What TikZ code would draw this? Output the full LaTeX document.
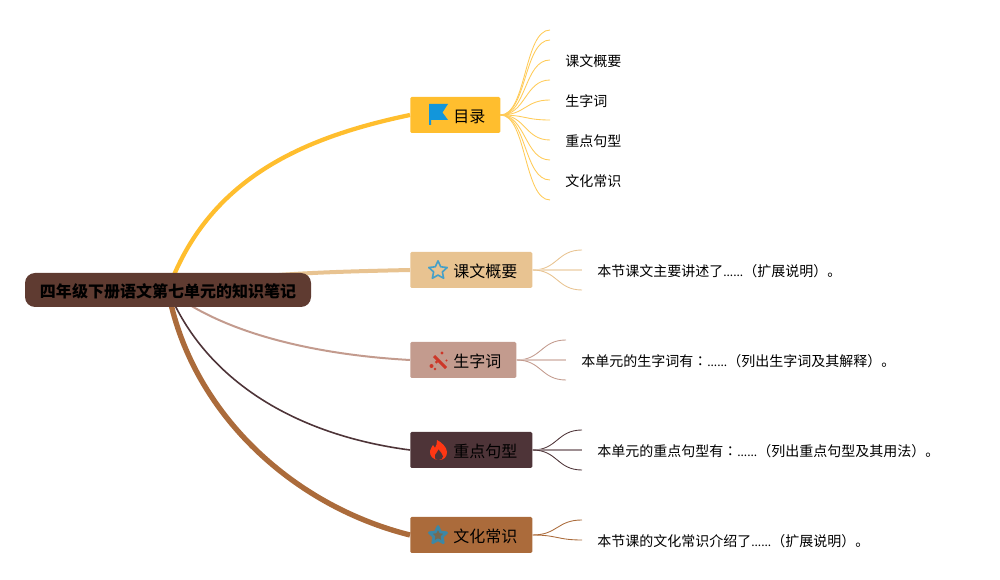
\documentclass[tikz,border=0pt]{standalone}
\usepackage{fontspec}
\setmainfont{Noto Sans CJK SC}
\newfontfamily\tcfont{Noto Sans CJK TC}
\usetikzlibrary{backgrounds,shapes.geometric}
\definecolor{cgold}{HTML}{FFBE2E}
\definecolor{ctan}{HTML}{E8C391}
\definecolor{crose}{HTML}{C39B8E}
\definecolor{cdark}{HTML}{4E3438}
\definecolor{cbrown}{HTML}{AB6B3B}
\definecolor{croot}{HTML}{5F3B31}
\tikzset{
  rootbox/.style={fill=croot,rounded corners=7.5pt,minimum width=214.5pt,minimum height=25.5pt,inner sep=0pt,text height=12pt,text depth=1pt,font=\fontsize{12pt}{14pt}\selectfont\bfseries},
  topicbox/.style={rounded corners=1pt,minimum height=27pt,inner xsep=11.25pt,inner ysep=0pt,anchor=west,text height=12pt,text depth=1pt,font=\fontsize{12pt}{14pt}\selectfont},
  leaftext/.style={inner xsep=11.25pt,inner ysep=0pt,anchor=west,text height=11pt,text depth=0.8pt,font=\fontsize{10.5pt}{13pt}\selectfont},
  leafline/.style={line width=0.65pt},
  midline/.style={line width=1.1pt},
}
\colorlet{cgoldleaf}{cgold!80}
\newcommand{\pad}{\hspace*{21pt}}
\newcommand{\smalldots}{{\fontsize{9pt}{13pt}\selectfont ......}}
\newcommand{\tccolon}{{\tcfont ：}}
\begin{document}
\begin{tikzpicture}[x=0.75pt,y=0.75pt,yscale=-1,xscale=1]
\useasboundingbox (0,0) rectangle (1000,580);

% Root
\node[rootbox] (root) at (168,290) {四年级下册语文第七单元的知识笔记};
% Topics
\node[topicbox,fill=cgold] (mulu) at (410,115) {\pad 目录};
\node[topicbox,fill=ctan] (kewen) at (410,270) {\pad 课文概要};
\node[topicbox,fill=crose] (shengzi) at (410,360) {\pad 生字词};
\node[topicbox,fill=cdark] (juxing) at (410,450) {\pad 重点句型};
\node[topicbox,fill=cbrown] (wenhua) at (410,535) {\pad 文化常识};
% Leaf Text
\node[leaftext] (muluA) at (550,60) {课文概要};
\node[leaftext] (muluB) at (550,100) {生字词};
\node[leaftext] (muluC) at (550,140) {重点句型};
\node[leaftext] (muluD) at (550,180) {文化常识};
\node[leaftext] (kewenA) at (582,270) {本节课文主要讲述了\smalldots（扩展说明）。};
\node[leaftext] (shengziA) at (566,360) {本单元的生字词有\tccolon\smalldots（列出生字词及其解释）。};
\node[leaftext] (juxingA) at (582,450) {本单元的重点句型有\tccolon\smalldots（列出重点句型及其用法）。};
\node[leaftext] (wenhuaA) at (582,540) {本节课的文化常识介绍了\smalldots（扩展说明）。};
% Free Ends
\coordinate (muluE1) at (550,30);
\coordinate (muluE2) at (550,40);
\coordinate (muluE3) at (550,80);
\coordinate (muluE4) at (550,120);
\coordinate (muluE5) at (550,160);
\coordinate (muluE6) at (550,200);
\coordinate (kewenE1) at (582,250);
\coordinate (kewenE2) at (582,290);
\coordinate (shengziE1) at (566,340);
\coordinate (shengziE2) at (566,380);
\coordinate (juxingE1) at (582,430);
\coordinate (juxingE2) at (582,470);
\coordinate (wenhuaE1) at (582,520);

\begin{scope}[on background layer]
% Connection
\draw [cgold,line width=3.2pt] (root.center) .. controls (208,180) and (300,138) .. (mulu.west) ;
% Connection
\draw [ctan,line width=3pt] (root.center) .. controls (240,274) and (320,272) .. (kewen.west) ;
% Connection
\draw [crose,line width=1.5pt] (root.center) .. controls (225,335) and (320,355) .. (shengzi.west) ;
% Connection
\draw [cdark,line width=1.2pt] (root.center) .. controls (205,380) and (295,435) .. (juxing.west) ;
% Connection
\draw [cbrown,line width=4pt] (root.center) .. controls (190,410) and (290,505) .. (wenhua.west) ;

% Connection
\draw [leafline,cgoldleaf] (mulu.east) .. controls +(26,0) and +(-26,0) .. (muluE1) ;
% Connection
\draw [leafline,cgoldleaf] (mulu.east) .. controls +(26,0) and +(-26,0) .. (muluE2) ;
% Connection
\draw [leafline,cgoldleaf] (mulu.east) .. controls +(26,0) and +(-26,0) .. (muluA.west) ;
% Connection
\draw [leafline,cgoldleaf] (mulu.east) .. controls +(25,0) and +(-25,0) .. (muluE3) ;
% Connection
\draw [leafline,cgoldleaf] (mulu.east) .. controls +(25,0) and +(-25,0) .. (muluB.west) ;
% Connection
\draw [leafline,cgoldleaf] (mulu.east) .. controls +(25,0) and +(-25,0) .. (muluE4) ;
% Connection
\draw [leafline,cgoldleaf] (mulu.east) .. controls +(25,0) and +(-25,0) .. (muluC.west) ;
% Connection
\draw [leafline,cgoldleaf] (mulu.east) .. controls +(25,0) and +(-25,0) .. (muluE5) ;
% Connection
\draw [leafline,cgoldleaf] (mulu.east) .. controls +(26,0) and +(-26,0) .. (muluD.west) ;
% Connection
\draw [leafline,cgoldleaf] (mulu.east) .. controls +(26,0) and +(-26,0) .. (muluE6) ;

% Connection
\draw [leafline,ctan] (kewen.east) .. controls +(25,0) and +(-25,0) .. (kewenE1) ;
% Connection
\draw [midline,ctan!55] (kewen.east) -- (kewenA.west) ;
% Connection
\draw [leafline,ctan] (kewen.east) .. controls +(25,0) and +(-25,0) .. (kewenE2) ;

% Connection
\draw [leafline,crose] (shengzi.east) .. controls +(25,0) and +(-25,0) .. (shengziE1) ;
% Connection
\draw [midline,crose!55] (shengzi.east) -- (shengziA.west) ;
% Connection
\draw [leafline,crose] (shengzi.east) .. controls +(25,0) and +(-25,0) .. (shengziE2) ;

% Connection
\draw [leafline,cdark] (juxing.east) .. controls +(25,0) and +(-25,0) .. (juxingE1) ;
% Connection
\draw [midline,cdark!55] (juxing.east) -- (juxingA.west) ;
% Connection
\draw [leafline,cdark] (juxing.east) .. controls +(25,0) and +(-25,0) .. (juxingE2) ;

% Connection
\draw [leafline,cbrown] (wenhua.east) .. controls +(25,0) and +(-25,0) .. (wenhuaE1) ;
% Connection
\draw [leafline,cbrown] (wenhua.east) .. controls +(25,0) and +(-25,0) .. (wenhuaA.west) ;
\end{scope}

% Flag Icon
\fill [color={rgb,255:red,18;green,150;blue,219}] (429,104) -- (448,104) -- (442.5,112.5) -- (448,120) -- (431,120) -- (431,125) -- (429,125) -- cycle ;
% Star Icon
\node [star,star points=5,star point ratio=2.1,draw={rgb,255:red,70;green,160;blue,200},line width=1.2pt,minimum size=14.5pt,inner sep=0pt,line join=round] (kewenstar) at (438,270.5) {};
% Wand Icon
\draw [color={rgb,255:red,205;green,55;blue,40},line width=2.2pt] (434,356) -- (446,368) ;
\fill [color={rgb,255:red,205;green,55;blue,40}] (431.5,366) circle (2) (436.5,362) circle (1.6) (435,369) circle (1.4) (442,353) circle (1.6) (446.5,360.5) circle (1.2) ;
% Flame Icon
\fill [color={rgb,255:red,255;green,55;blue,20}] (439,460) .. controls (433,460) and (429.5,456) .. (430,451) .. controls (430.5,447.5) and (432.5,447) .. (433,445) .. controls (434,446) and (434.5,447) .. (435,448) .. controls (436.5,446) and (437,443) .. (437,440) .. controls (441,442) and (447,447) .. (447,452) .. controls (447,457) and (444,460) .. (439,460) -- cycle ;
\fill [cdark] (438.5,460) .. controls (435,460) and (434,457) .. (435,455) .. controls (436,453.5) and (437.5,452) .. (438.5,449.5) .. controls (440,452) and (443,454) .. (443,456.5) .. controls (443,458.5) and (441,460) .. (438.5,460) -- cycle ;
% Star Icon
\node [star,star points=5,star point ratio=2.1,draw={rgb,255:red,60;green,135;blue,165},line width=2pt,fill={rgb,255:red,120;green,105;blue,80},minimum size=13.5pt,inner sep=0pt,line join=round] (wenhuastar) at (438,535.5) {};

\end{tikzpicture}
\end{document}
